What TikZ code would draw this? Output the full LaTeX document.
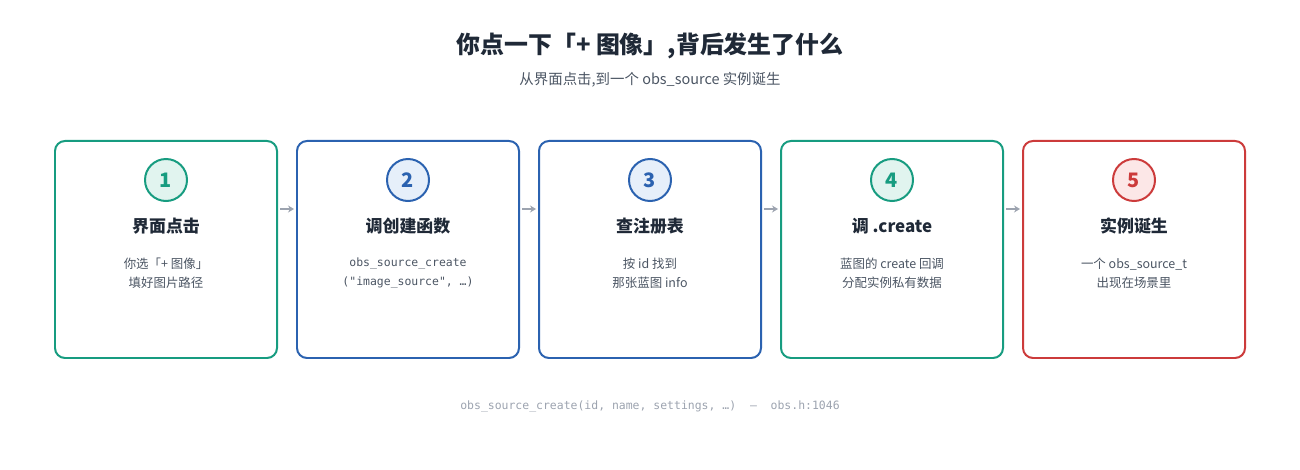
\documentclass[tikz,border=0pt]{standalone}
\usepackage{fontspec}
\setmainfont{Noto Sans CJK SC}
\setmonofont{DejaVu Sans Mono}
\usetikzlibrary{positioning}
\definecolor{tealc}{HTML}{179C80}
\definecolor{tealf}{HTML}{E1F4EF}
\definecolor{bluec}{HTML}{2B62B0}
\definecolor{bluef}{HTML}{E6EFFA}
\definecolor{redc}{HTML}{CC3B3B}
\definecolor{redf}{HTML}{FCE7E7}
\definecolor{inkc}{HTML}{1F2937}
\definecolor{bodyc}{HTML}{4B5563}
\definecolor{mutec}{HTML}{9CA3AF}
\tikzset{
	step/.style={draw=#1, line width=2pt, rounded corners=10bp, minimum width=222bp, minimum height=217bp},
	badge/.style={circle, draw=#1, line width=2pt, minimum size=42bp, inner sep=0pt, text=#1, font=\fontsize{20}{20}\selectfont\bfseries},
	head/.style={text=inkc, font=\fontsize{17}{20}\selectfont\bfseries},
	body/.style={text=bodyc, align=center, font=\fontsize{12.5}{19.5}\selectfont},
	link/.style={-{Stealth[length=6bp,width=7bp]}, draw=mutec, line width=2.2pt},
}
\usetikzlibrary{arrows.meta}
\begin{document}
\begin{tikzpicture}[x=1bp, y=-1bp]
	\useasboundingbox (0,0) rectangle (1300,470);
	% title
	\node[text=inkc, font=\fontsize{24}{28}\selectfont\bfseries] (title) at (650,46) {你点一下「+ 图像」,背后发生了什么};
	\node[text=bodyc, font=\fontsize{14.5}{17}\selectfont] (subtitle) at (650,80) {从界面点击,到一个 obs\_source 实例诞生};
	%--- five steps ---
	\foreach \n/\c in {1/tealc,2/bluec,3/bluec,4/tealc,5/redc}{
		\node[step=\c] (s\n) at (166+242*\n-242, 249.5) {};
	}
	\foreach \n/\c/\f in {1/tealc/tealf,2/bluec/bluef,3/bluec/bluef,4/tealc/tealf,5/redc/redf}{
		\node[badge=\c, fill=\f] (b\n) at ([yshift=-40bp]s\n.north) {\n};
	}
	\node[head] (h1) at ([yshift=-86bp]s1.north) {界面点击};
	\node[head] (h2) at ([yshift=-86bp]s2.north) {调创建函数};
	\node[head] (h3) at ([yshift=-86bp]s3.north) {查注册表};
	\node[head] (h4) at ([yshift=-86bp]s4.north) {调 .create};
	\node[head] (h5) at ([yshift=-86bp]s5.north) {实例诞生};
	\node[body] (t1) at ([yshift=-133bp]s1.north) {你选「+ 图像」\\填好图片路径};
	\node[body, font=\ttfamily\fontsize{11.5}{19.5}\selectfont] (t2) at ([yshift=-133bp]s2.north) {obs\_source\_create\\("image\_source", …)};
	\node[body] (t3) at ([yshift=-133bp]s3.north) {按 id 找到\\那张蓝图 info};
	\node[body] (t4) at ([yshift=-133bp]s4.north) {蓝图的 create 回调\\分配实例私有数据};
	\node[body] (t5) at ([yshift=-133bp]s5.north) {一个 obs\_source\_t\\出现在场景里};
	% arrows between steps
	\foreach \a/\b in {1/2,2/3,3/4,4/5}{
		\draw[link] ([yshift=-69bp, xshift=2bp]s\a.north east) -- ([yshift=-69bp, xshift=-2bp]s\b.north west);
	}
	% footer
	\node[text=mutec, font=\ttfamily\fontsize{11.5}{14}\selectfont] (foot) at (650,406) {obs\_source\_create(id, name, settings, …)\ \ —\ \ obs.h:1046};
\end{tikzpicture}
\end{document}
